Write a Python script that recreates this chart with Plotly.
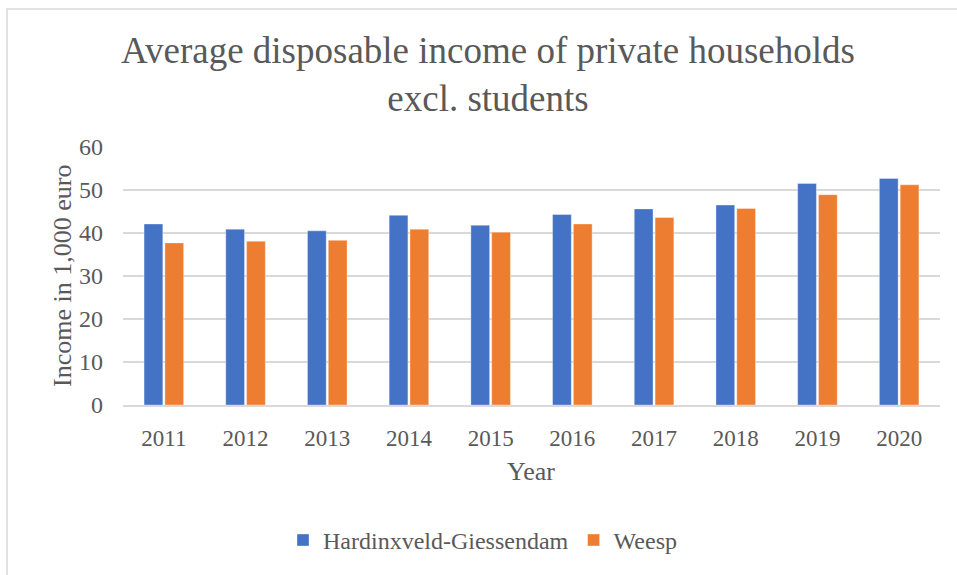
import plotly.graph_objects as go

years = ["2011", "2012", "2013", "2014", "2015", "2016", "2017", "2018", "2019", "2020"]
hardinxveld = [42.1, 40.9, 40.5, 44.1, 41.8, 44.3, 45.6, 46.5, 51.5, 52.7]
weesp = [37.7, 38.1, 38.3, 40.9, 40.2, 42.1, 43.6, 45.7, 48.9, 51.2]
series_names = ["Hardinxveld-Giessendam", "Weesp"]
title_text = "Average disposable income of private households<br>excl. students"
y_title = "Income in 1,000 euro"
x_title = "Year"

W, H = 957, 575
ML, MR, MT, MB = 123, 17, 147, 167
PW, PH = W - ML - MR, H - MT - MB

def px_x(x):
    return (x - ML) / PW

def px_y(y):
    return (H - MB - y) / PH

FONT = "Liberation Serif"
GREY = "#595959"

fig = go.Figure()
fig.add_trace(go.Bar(x=years, y=hardinxveld, name=series_names[0],
                     marker=dict(color="#4472C4", line=dict(color="rgba(255,255,255,0.35)", width=1))))
fig.add_trace(go.Bar(x=years, y=weesp, name=series_names[1],
                     marker=dict(color="#ED7D31", line=dict(color="rgba(255,255,255,0.35)", width=1))))

fig.update_layout(
    width=W, height=H,
    margin=dict(l=ML, r=MR, t=MT, b=MB, pad=0),
    paper_bgcolor="white", plot_bgcolor="white",
    barmode="group", bargap=0.49, bargroupgap=0.1,
    font=dict(family=FONT, color=GREY, size=23),
    showlegend=True,
    legend=dict(orientation="h", x=px_x(283), xanchor="left", y=px_y(545), yanchor="middle",
                font=dict(family=FONT, size=24, color=GREY), bgcolor="rgba(0,0,0,0)"),
    xaxis=dict(showgrid=False, showline=True, linecolor="#d9d9d9", linewidth=1.5,
               ticks="", ticklabelstandoff=12, tickfont=dict(family=FONT, size=23, color=GREY)),
    yaxis=dict(range=[0, 60], dtick=10, showgrid=True, gridcolor="#d9d9d9", gridwidth=1.5,
               zeroline=False, showline=False, ticks="", ticklabelstandoff=19,
               tickfont=dict(family=FONT, size=24, color=GREY)),
    annotations=[
        dict(text=title_text, xref="paper", yref="paper", x=px_x(487.5), y=px_y(73.5),
             xanchor="center", yanchor="middle", showarrow=False,
             font=dict(family=FONT, size=37, color=GREY)),
        dict(text=y_title, xref="paper", yref="paper", x=px_x(62), y=0.5, textangle=-90,
             xanchor="center", yanchor="middle", showarrow=False,
             font=dict(family=FONT, size=26, color=GREY)),
        dict(text=x_title, xref="paper", yref="paper", x=px_x(530.5), y=px_y(475),
             xanchor="center", yanchor="middle", showarrow=False,
             font=dict(family=FONT, size=26, color=GREY)),
    ],
    shapes=[
        dict(type="rect", xref="paper", yref="paper", x0=px_x(7), x1=px_x(1000),
             y0=px_y(620), y1=px_y(7.5), line=dict(color="#d9d9d9", width=1.5),
             fillcolor="rgba(0,0,0,0)", layer="below"),
    ],
)

fig.write_html("out.html")
